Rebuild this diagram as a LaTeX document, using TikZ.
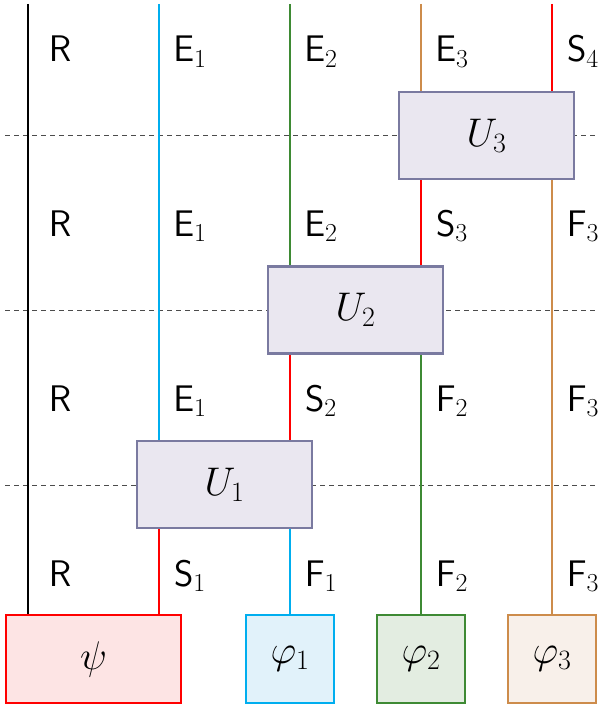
\RequirePackage{fix-cm}
\documentclass[tikz,border=0pt]{standalone}
\usetikzlibrary{backgrounds}
\definecolor{wcyan}{RGB}{0,174,239}
\definecolor{wgreen}{RGB}{62,138,52}
\definecolor{wbrown}{RGB}{205,140,75}
\definecolor{wred}{RGB}{255,0,0}
\definecolor{ufill}{RGB}{234,231,240}
\definecolor{udraw}{RGB}{122,122,160}
\definecolor{psifill}{RGB}{253,228,228}
\definecolor{cfill}{RGB}{225,242,250}
\definecolor{gfill}{RGB}{227,237,225}
\definecolor{bfill}{RGB}{248,240,234}
\begin{document}
\begin{tikzpicture}[x=1pt,y=-1pt,
  wire/.style={line width=2.3pt},
  ubox/.style={draw=udraw,fill=ufill,line width=2.6pt,minimum width=175pt,minimum height=87pt,inner sep=0pt,font=\fontsize{40}{48}\selectfont},
  sbox/.style={line width=2.6pt,minimum height=88pt,inner sep=0pt,font=\fontsize{40}{48}\selectfont},
  lab/.style={anchor=base,inner sep=0pt,font=\fontsize{37}{44}\selectfont},
  sep/.style={dash pattern=on 5pt off 4pt,line width=0.8pt,black!70}]
\useasboundingbox (0,0) rectangle (602,709);
% boxes
\node[ubox] (U3) at (486.5,135.5) {$U_3$};
\node[ubox] (U2) at (355.5,310) {$U_2$};
\node[ubox] (U1) at (224.5,484.5) {$U_1$};
\node[sbox,draw=wred,fill=psifill,minimum width=175pt] (psi) at (93.5,659) {$\psi$};
\node[sbox,draw=wcyan,fill=cfill,minimum width=88pt] (p1) at (290,659) {$\varphi_1$};
\node[sbox,draw=wgreen,fill=gfill,minimum width=88pt] (p2) at (421,659) {$\varphi_2$};
\node[sbox,draw=wbrown,fill=bfill,minimum width=88pt] (p3) at (552,659) {$\varphi_3$};
% top ends
\coordinate (t0) at (28,4);
\coordinate (t1) at (159,4);
\coordinate (t2) at (290,4);
\coordinate (t3) at (421,4);
\coordinate (t4) at (552,4);
\coordinate (dl1) at (5,135); \coordinate (dr1) at (598,135);
\coordinate (dl2) at (5,310); \coordinate (dr2) at (598,310);
\coordinate (dl3) at (5,485); \coordinate (dr3) at (598,485);
\begin{scope}[on background layer]
% dashed separators
\draw[sep] (dl1) -- (dr1);
\draw[sep] (dl2) -- (dr2);
\draw[sep] (dl3) -- (dr3);
% wires
\draw[wire,black] (t0) -- (psi.north -| t0);
\draw[wire,wcyan] (t1) -- (U1.north -| t1);
\draw[wire,wred] (U1.south -| t1) -- (psi.north -| t1);
\draw[wire,wgreen] (t2) -- (U2.north -| t2);
\draw[wire,wred] (U2.south -| t2) -- (U1.north -| t2);
\draw[wire,wcyan] (U1.south -| t2) -- (p1.north);
\draw[wire,wbrown] (t3) -- (U3.north -| t3);
\draw[wire,wred] (U3.south -| t3) -- (U2.north -| t3);
\draw[wire,wgreen] (U2.south -| t3) -- (p2.north);
\draw[wire,wred] (t4) -- (U3.north -| t4);
\draw[wire,wbrown] (U3.south -| t4) -- (p3.north);
\end{scope}
% labels row 1
\node[lab] (l10) at (60,62) {$\mathsf{R}$};
\node[lab] (l11) at (190,62) {$\mathsf{E}_1$};
\node[lab] (l12) at (321,62) {$\mathsf{E}_2$};
\node[lab] (l13) at (452,62) {$\mathsf{E}_3$};
\node[lab] (l14) at (583,62) {$\mathsf{S}_4$};
% row 2
\node[lab] (l20) at (60,236) {$\mathsf{R}$};
\node[lab] (l21) at (190,236) {$\mathsf{E}_1$};
\node[lab] (l22) at (321,236) {$\mathsf{E}_2$};
\node[lab] (l23) at (452,236) {$\mathsf{S}_3$};
\node[lab] (l24) at (583,236) {$\mathsf{F}_3$};
% row 3
\node[lab] (l30) at (60,411) {$\mathsf{R}$};
\node[lab] (l31) at (190,411) {$\mathsf{E}_1$};
\node[lab] (l32) at (321,411) {$\mathsf{S}_2$};
\node[lab] (l33) at (452,411) {$\mathsf{F}_2$};
\node[lab] (l34) at (583,411) {$\mathsf{F}_3$};
% row 4
\node[lab] (l40) at (60,586) {$\mathsf{R}$};
\node[lab] (l41) at (190,586) {$\mathsf{S}_1$};
\node[lab] (l42) at (321,586) {$\mathsf{F}_1$};
\node[lab] (l43) at (452,586) {$\mathsf{F}_2$};
\node[lab] (l44) at (583,586) {$\mathsf{F}_3$};
\end{tikzpicture}
\end{document}
